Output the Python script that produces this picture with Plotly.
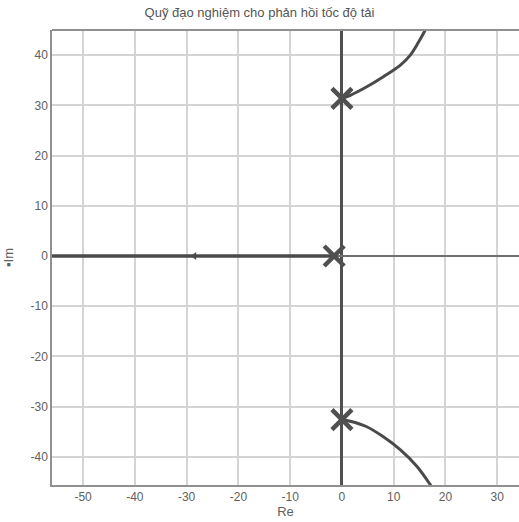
import plotly.graph_objects as go

# Root locus branches
upper_re = [0.0, 1.6, 4.8, 8.0, 11.3, 13.2, 14.8, 16.1, 16.6]
upper_im = [31.4, 32.0, 33.7, 35.7, 38.0, 40.0, 42.6, 45.0, 46.0]
lower_re = [0.0, 1.6, 4.8, 8.0, 11.3, 14.5, 17.1, 17.6]
lower_im = [-32.6, -32.9, -34.0, -36.0, -38.6, -41.9, -45.6, -46.4]
real_re = [-60.0, -1.5]
real_im = [0.0, 0.0]
pole_re = [0.0, -1.5, 0.0]
pole_im = [31.4, 0.0, -32.6]
arrow_re = [-28.5]
arrow_im = [0.0]

x_ticks = [-50, -40, -30, -20, -10, 0, 10, 20, 30]
y_ticks = [-40, -30, -20, -10, 0, 10, 20, 30, 40]

line_col = "#4a4a4a"
fig = go.Figure()
fig.add_trace(go.Scatter(x=real_re, y=real_im, mode="lines",
                         line=dict(color=line_col, width=3.5), hoverinfo="skip"))
fig.add_trace(go.Scatter(x=upper_re, y=upper_im, mode="lines",
                         line=dict(color=line_col, width=3, shape="spline", smoothing=1),
                         hoverinfo="skip"))
fig.add_trace(go.Scatter(x=lower_re, y=lower_im, mode="lines",
                         line=dict(color=line_col, width=3, shape="spline", smoothing=1),
                         hoverinfo="skip"))
fig.add_trace(go.Scatter(x=arrow_re, y=arrow_im, mode="markers",
                         marker=dict(symbol="triangle-left", size=7, color=line_col), hoverinfo="skip"))
fig.add_trace(go.Scatter(x=pole_re, y=pole_im, mode="markers",
                         marker=dict(symbol="x-thin", size=20, line=dict(color="#505050", width=4.5)),
                         hoverinfo="skip"))

fig.update_layout(
    width=519, height=522,
    margin=dict(l=52, r=0, t=30, b=37),
    paper_bgcolor="white", plot_bgcolor="white",
    showlegend=False,
    font=dict(family="Liberation Sans, Arial, sans-serif", size=12, color="#606060"),
    title=dict(text="Quỹ đạo nghiệm cho phản hồi tốc độ tải", x=0.5, xanchor="center",
               y=0.985, yanchor="top", font=dict(size=13, color="#555555")),
)
fig.update_xaxes(range=[-56, 34.2], tickvals=x_ticks, ticktext=[str(v) for v in x_ticks],
                 showgrid=True, gridcolor="#d4d4d4", gridwidth=1.5,
                 zeroline=True, zerolinecolor="#505050", zerolinewidth=3,
                 showline=True, linecolor="#909090", linewidth=1.5, mirror=False,
                 ticks="", title=dict(text="Re", standoff=0, font=dict(size=13)))
fig.update_yaxes(range=[-45.6, 45.0], tickvals=y_ticks, ticktext=[str(v) for v in y_ticks],
                 showgrid=True, gridcolor="#d4d4d4", gridwidth=1.5,
                 zeroline=True, zerolinecolor="#707070", zerolinewidth=2,
                 showline=True, linecolor="#909090", linewidth=1.5, mirror=False,
                 ticks="", title=dict(text="▪Im", standoff=14, font=dict(size=13)))
# top border
fig.add_shape(type="line", xref="paper", yref="paper", x0=0, x1=1, y0=1, y1=1,
              line=dict(color="#909090", width=2))

fig.write_html("out.html")
